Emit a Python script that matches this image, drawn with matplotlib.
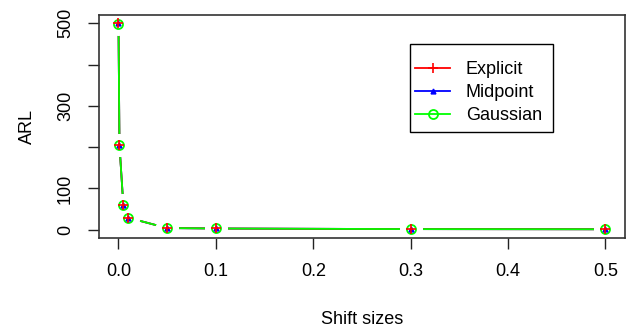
import numpy as np
import matplotlib.pyplot as plt
from matplotlib.patches import Rectangle

shift = [0.0, 0.001, 0.005, 0.01, 0.05, 0.1, 0.3, 0.5]
arl_explicit = [500, 205, 59, 29, 4, 3, 1.5, 1.1]
arl_midpoint = [500, 205, 59, 29, 4, 3, 1.5, 1.1]
arl_gaussian = [499, 205, 59, 29, 4, 3, 1.5, 1.1]

plt.rcParams['font.family'] = ['Liberation Sans', 'DejaVu Sans']

fig = plt.figure(figsize=(6.29, 3.31), dpi=100)
ax = fig.add_axes([0.1574, 0.281, 0.8362, 0.6737])

series = [
    ("Explicit", arl_explicit, "#ff0000", "+", 7, 1.2),
    ("Midpoint", arl_midpoint, "#0000ff", "^", 3.5, 1.0),
    ("Gaussian", arl_gaussian, "#00ff00", "o", 6.5, 1.3),
]

# lines first (R type = "b": lines broken around the points)
for name, y, col, mk, ms, mew in [series[1], series[0], series[2]]:
    ax.plot(shift, y, color=col, lw=1.3, zorder=2)
for name, y, col, mk, ms, mew in series:
    ax.plot(shift, y, ls="none", marker="o", ms=15.5, mfc="white", mec="white", zorder=3)
for name, y, col, mk, ms, mew in [series[2], series[1], series[0]]:
    mfc = col if mk == "^" else "none"
    ax.plot(shift, y, ls="none", marker=mk, ms=ms, mfc=mfc, mec=col, mew=mew, zorder=4)

ax.set_xlim(-0.02, 0.52)
ax.set_ylim(-20, 520)
ax.set_xticks([0.0, 0.1, 0.2, 0.3, 0.4, 0.5])
ax.set_xticklabels(["0.0", "0.1", "0.2", "0.3", "0.4", "0.5"])
ax.set_yticks([0, 100, 200, 300, 400, 500])
ax.set_yticklabels(["0", "100", "", "300", "", "500"], rotation=90, va="center")
ax.tick_params(direction="out", length=8, width=1, labelsize=13, pad=10, color="#222222")
for s in ax.spines.values():
    s.set_color("#333333")
    s.set_linewidth(1.2)
    s.set_zorder(5)

ax.set_xlabel("Shift sizes", fontsize=13, labelpad=22)
ax.set_ylabel("ARL", fontsize=13, labelpad=15)

handles = []
for name, y, col, mk, ms, mew in series:
    mfc = col if mk == "^" else "none"
    h, = ax.plot([], [], color=col, lw=1.3, marker=mk, ms=ms, mfc=mfc, mec=col, mew=mew)
    handles.append(h)
leg = ax.legend(handles, [s[0] for s in series], loc="upper left",
                bbox_to_anchor=(0.601, 0.794), fontsize=13, frameon=False,
                handlelength=1.95, handletextpad=0.85, labelspacing=0.34,
                borderpad=0, borderaxespad=0)
leg.set_zorder(6)
ax.add_patch(Rectangle((0.591, 0.475), 0.272, 0.395, transform=ax.transAxes,
                       fill=True, facecolor="white", edgecolor="black", lw=1.0, zorder=5.5))

fig.savefig("out.png", dpi=100)
